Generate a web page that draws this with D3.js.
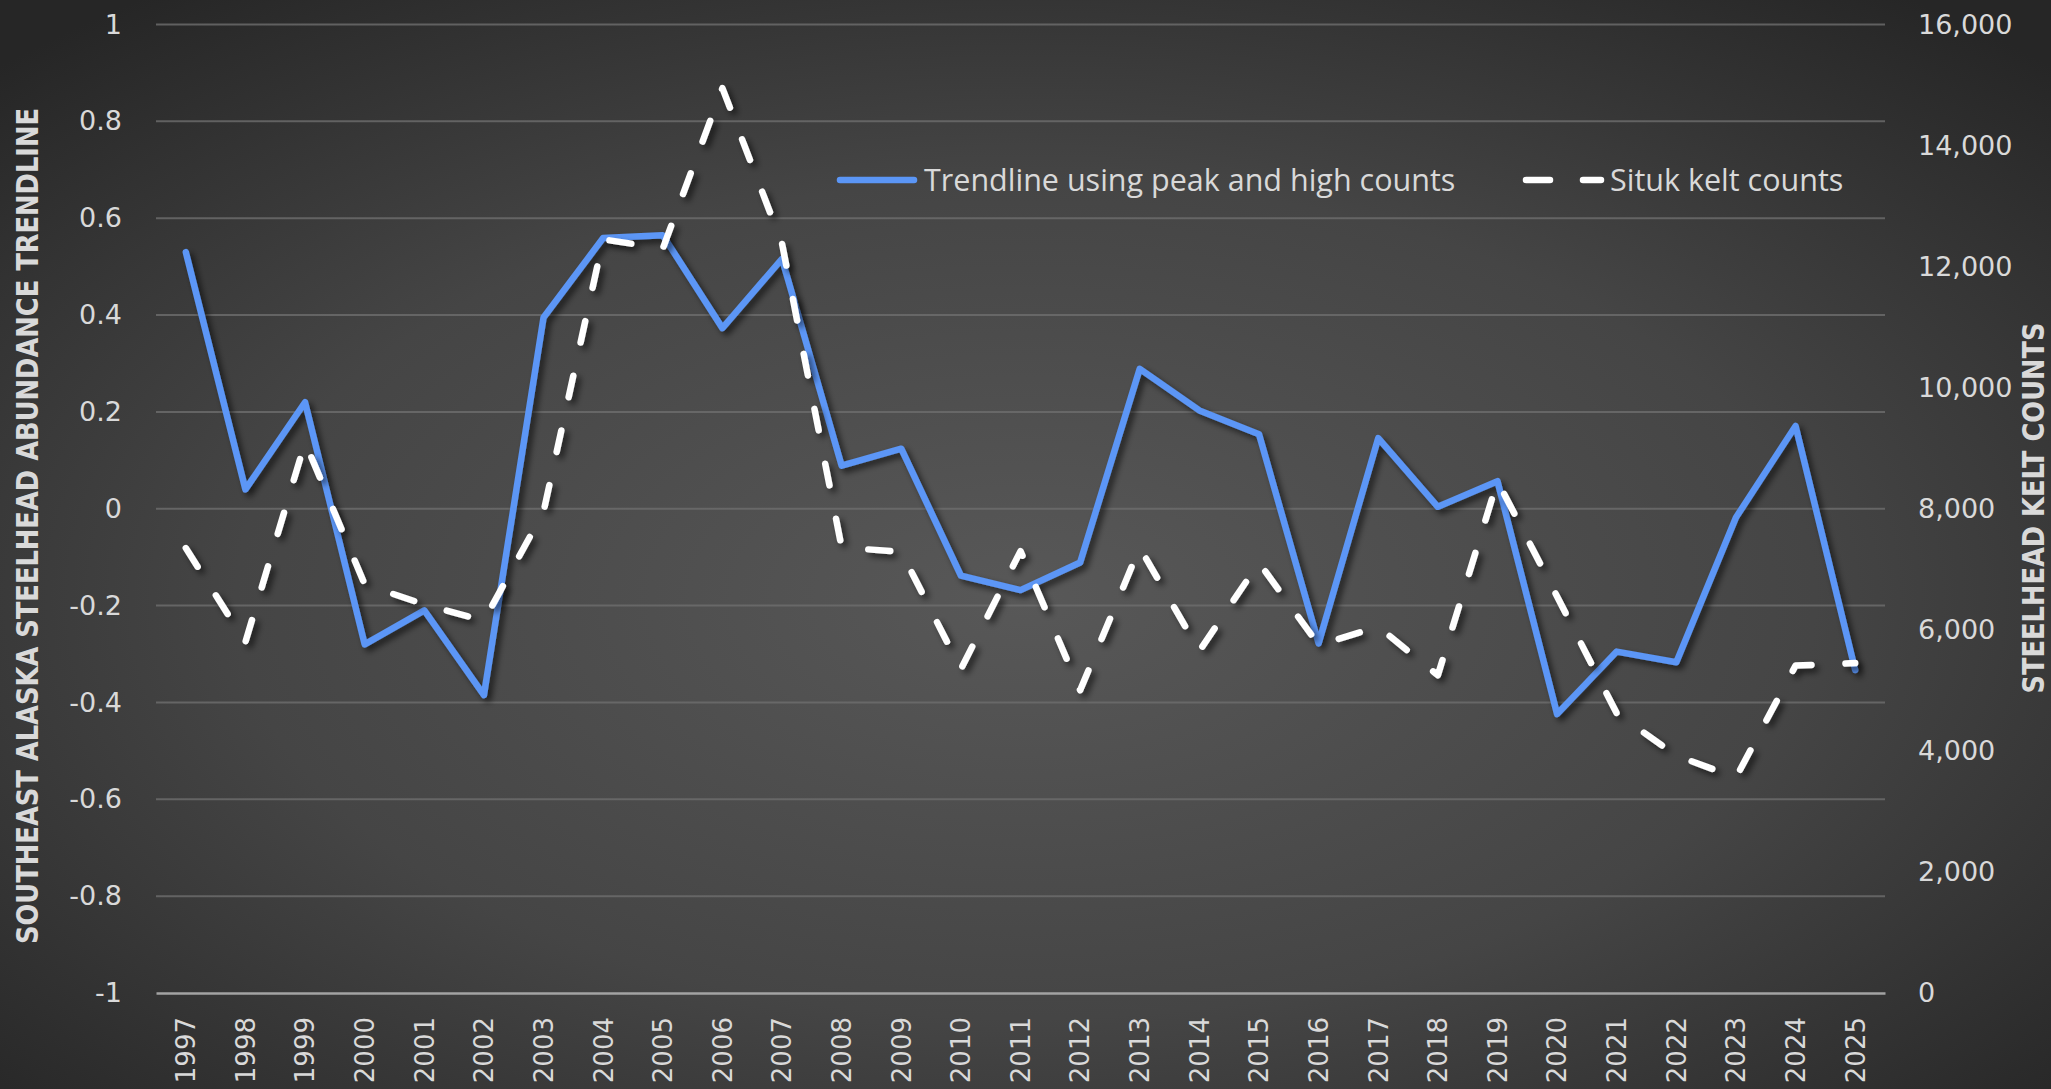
<!DOCTYPE html>
<html>
<head>
<meta charset="utf-8">
<script src="https://cdn.jsdelivr.net/npm/d3@7"></script>
<style>
  html, body { margin: 0; padding: 0; background: #2b2b2b; }
  svg { display: block; }
</style>
</head>
<body>
<div id="chart"></div>
<script>
// data
const years = ["1997","1998","1999","2000","2001","2002","2003","2004","2005","2006",
  "2007","2008","2009","2010","2011","2012","2013","2014","2015","2016",
  "2017","2018","2019","2020","2021","2022","2023","2024","2025"];

const trendline = [0.53, 0.04, 0.22, -0.28, -0.21, -0.385, 0.395, 0.559, 0.565, 0.373,
  0.516, 0.089, 0.124, -0.138, -0.168, -0.111, 0.289, 0.203, 0.154, -0.278,
  0.146, 0.004, 0.057, -0.424, -0.295, -0.317, -0.018, 0.171, -0.333];

const keltCounts = [7350, 5800, 9100, 6750, 6420, 6150, 7950, 12450, 12300, 14950,
  12380, 7360, 7290, 5350, 7300, 5000, 7360, 5650, 7110, 5750,
  6050, 5250, 8460, 6550, 4620, 3920, 3560, 5410, 5450];

const leftTicks = [1, 0.8, 0.6, 0.4, 0.2, 0, -0.2, -0.4, -0.6, -0.8, -1];
const rightTicks = [0, 2000, 4000, 6000, 8000, 10000, 12000, 14000, 16000];

const seriesNames = ["Trendline using peak and high counts", "Situk kelt counts"];
const leftTitle = "SOUTHEAST ALASKA STEELHEAD ABUNDANCE TRENDLINE";
const rightTitle = "STEELHEAD KELT COUNTS";

const width = 2051, height = 1089;
const plot = { left: 156, right: 1885, top: 24.5, bottom: 993 };
const textColor = "#d9d9d9";
const blue = "#5b96f6";

const svg = d3.select("#chart").append("svg")
    .attr("width", width)
    .attr("height", height);

const defs = svg.append("defs");
const grad = defs.append("radialGradient")
    .attr("id", "bg")
    .attr("cx", "50%").attr("cy", "55%").attr("r", "70%");
grad.append("stop").attr("offset", "0%").attr("stop-color", "#585858");
grad.append("stop").attr("offset", "55%").attr("stop-color", "#454545");
grad.append("stop").attr("offset", "100%").attr("stop-color", "#262626");

const shadow = defs.append("filter")
    .attr("id", "shadow")
    .attr("x", "-10%").attr("y", "-10%")
    .attr("width", "120%").attr("height", "120%");
shadow.append("feDropShadow")
    .attr("dx", 4).attr("dy", 4)
    .attr("stdDeviation", 3)
    .attr("flood-color", "#000")
    .attr("flood-opacity", 0.6);

svg.append("rect")
    .attr("width", width)
    .attr("height", height)
    .attr("fill", "url(#bg)");

const x = d3.scaleBand().domain(years).range([plot.left, plot.right]);
const xc = d => x(d) + x.bandwidth() / 2;
const yL = d3.scaleLinear().domain([-1, 1]).range([plot.bottom, plot.top]);
const yR = d3.scaleLinear().domain([0, 16000]).range([plot.bottom, plot.top]);

// gridlines
svg.append("g")
    .selectAll("line")
    .data(leftTicks.filter(d => d !== -1))
    .join("line")
    .attr("x1", plot.left)
    .attr("x2", plot.right)
    .attr("y1", d => yL(d))
    .attr("y2", d => yL(d))
    .attr("stroke", "#6e6e6e")
    .attr("stroke-width", 2)
    .attr("opacity", 0.8);

// left axis
const gLeft = svg.append("g")
    .attr("transform", "translate(122,0)")
    .call(d3.axisLeft(yL).tickValues(leftTicks).tickSize(0).tickPadding(0)
        .tickFormat(d => String(+d.toFixed(1))));
gLeft.select(".domain").remove();
gLeft.selectAll("text")
    .attr("fill", textColor)
    .style("font-family", "DejaVu Sans, Verdana, sans-serif")
    .style("font-size", "27px");

// right axis
const gRight = svg.append("g")
    .attr("transform", "translate(1918,0)")
    .call(d3.axisRight(yR).tickValues(rightTicks).tickSize(0).tickPadding(0)
        .tickFormat(d3.format(",")));
gRight.select(".domain").remove();
gRight.selectAll("text")
    .attr("fill", textColor)
    .style("font-family", "DejaVu Sans, Verdana, sans-serif")
    .style("font-size", "27px");

// bottom axis
const gBottom = svg.append("g")
    .attr("transform", "translate(0," + plot.bottom + ")")
    .call(d3.axisBottom(x).tickSize(0).tickPadding(0));
gBottom.select(".domain")
    .attr("stroke", "#a3a3a3")
    .attr("stroke-width", 2.5);
gBottom.selectAll("text")
    .attr("fill", textColor)
    .attr("transform", "rotate(-90)")
    .attr("x", -24)
    .attr("y", 0)
    .attr("dy", "0.36em")
    .style("text-anchor", "end")
    .style("font-family", "DejaVu Sans, Verdana, sans-serif")
    .style("font-size", "26px");

// axis titles
svg.append("text")
    .attr("transform", "translate(27,526) rotate(-90)")
    .attr("fill", textColor)
    .attr("text-anchor", "middle")
    .attr("dominant-baseline", "central")
    .attr("textLength", 836)
    .attr("lengthAdjust", "spacingAndGlyphs")
    .style("font-family", "Liberation Sans Narrow, DejaVu Sans Condensed, sans-serif")
    .style("font-weight", "bold")
    .style("font-size", "31px")
    .text(leftTitle);

svg.append("text")
    .attr("transform", "translate(2033,508) rotate(-90)")
    .attr("fill", textColor)
    .attr("text-anchor", "middle")
    .attr("dominant-baseline", "central")
    .attr("textLength", 371)
    .attr("lengthAdjust", "spacingAndGlyphs")
    .style("font-family", "Liberation Sans Narrow, DejaVu Sans Condensed, sans-serif")
    .style("font-weight", "bold")
    .style("font-size", "31px")
    .text(rightTitle);

// lines
const lineL = d3.line().x((d, i) => xc(years[i])).y(d => yL(d));
const lineR = d3.line().x((d, i) => xc(years[i])).y(d => yR(d));

svg.append("path")
    .attr("d", lineL(trendline))
    .attr("fill", "none")
    .attr("stroke", blue)
    .attr("stroke-width", 6.5)
    .attr("stroke-linejoin", "round")
    .attr("stroke-linecap", "round")
    .attr("filter", "url(#shadow)");

svg.append("path")
    .attr("d", lineR(keltCounts))
    .attr("fill", "none")
    .attr("stroke", "#ffffff")
    .attr("stroke-width", 6.5)
    .attr("stroke-dasharray", "22 34")
    .attr("stroke-linejoin", "round")
    .attr("stroke-linecap", "round")
    .attr("filter", "url(#shadow)");

// legend
const legend = svg.append("g");
legend.append("line")
    .attr("x1", 840).attr("x2", 914)
    .attr("y1", 180).attr("y2", 180)
    .attr("stroke", blue)
    .attr("stroke-width", 6.5)
    .attr("stroke-linecap", "round");
legend.append("text")
    .attr("x", 924).attr("y", 191)
    .attr("fill", textColor)
    .style("font-family", "Open Sans, Noto Sans, sans-serif")
    .style("font-size", "30.5px")
    .text(seriesNames[0]);
legend.append("line")
    .attr("x1", 1526).attr("x2", 1601)
    .attr("y1", 180).attr("y2", 180)
    .attr("stroke", "#ffffff")
    .attr("stroke-width", 6.5)
    .attr("stroke-dasharray", "24 33")
    .attr("stroke-linecap", "round");
legend.append("text")
    .attr("x", 1610).attr("y", 191)
    .attr("fill", textColor)
    .style("font-family", "Open Sans, Noto Sans, sans-serif")
    .style("font-size", "30.5px")
    .text(seriesNames[1]);
</script>
</body>
</html>
